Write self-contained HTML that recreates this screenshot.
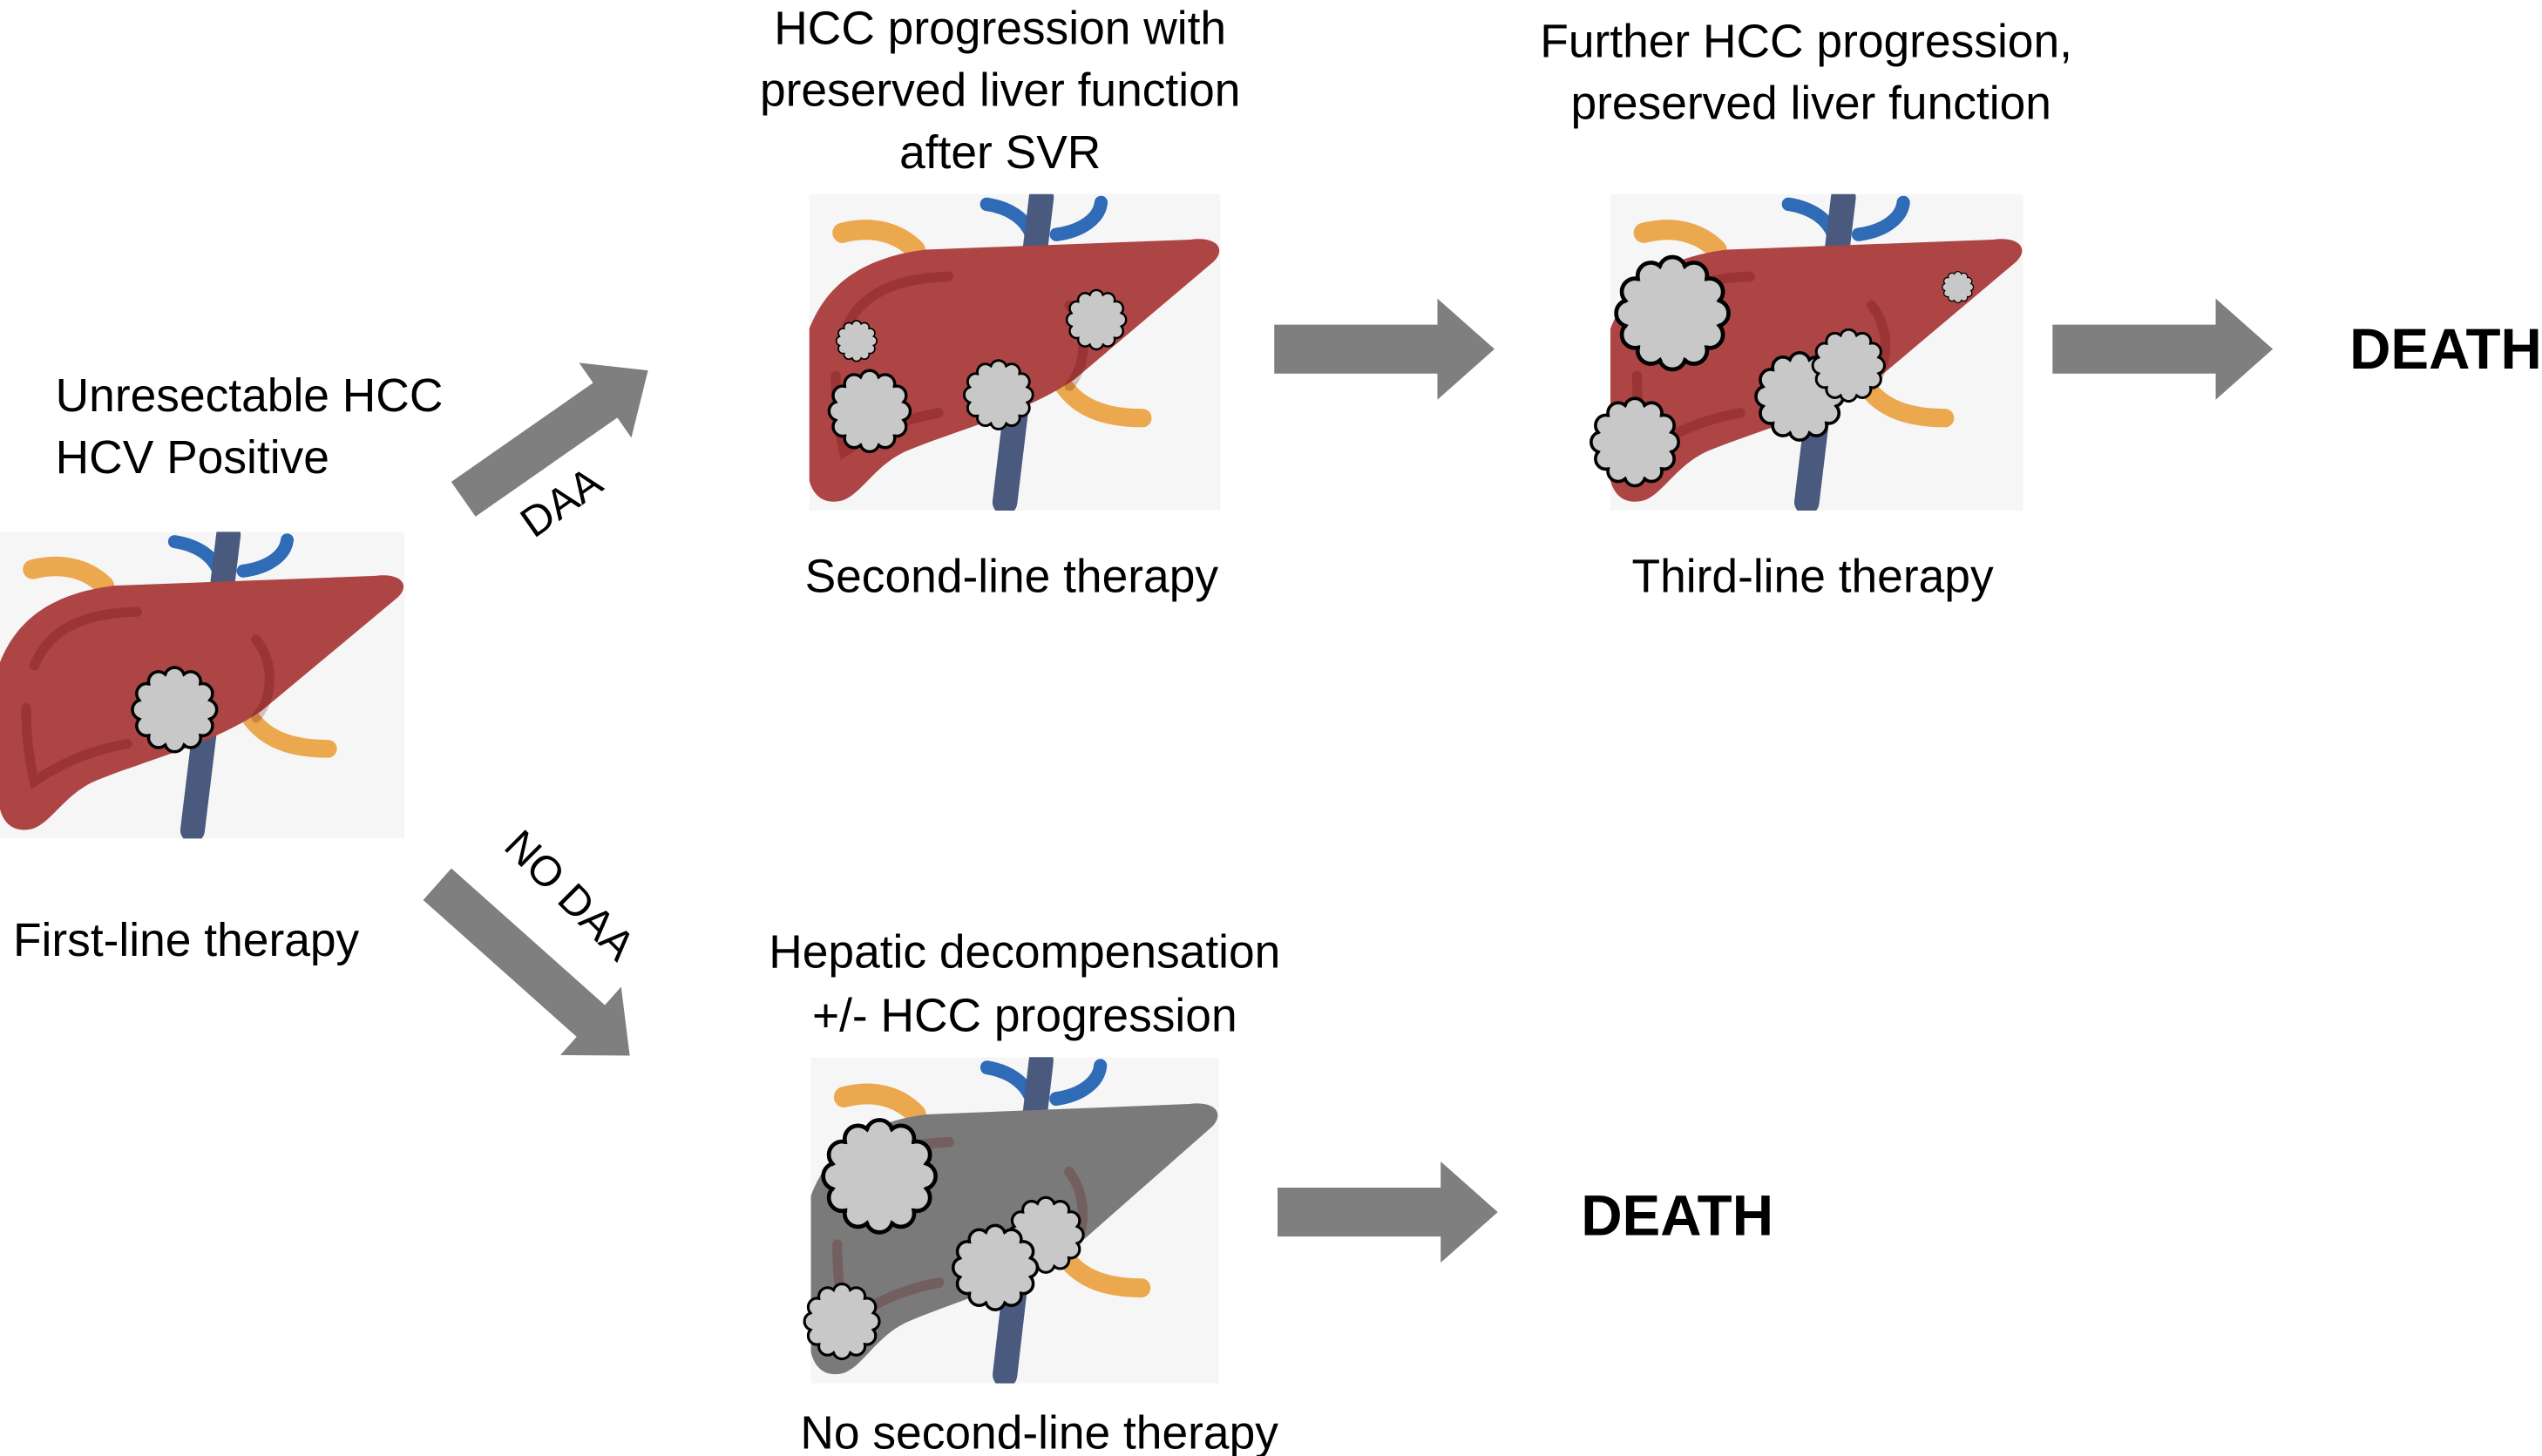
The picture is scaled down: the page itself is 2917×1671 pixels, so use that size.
<!DOCTYPE html>
<html><head><meta charset="utf-8"><style>
html,body{margin:0;padding:0;background:#fff;}
svg{display:block;}
text{font-family:"Liberation Sans",sans-serif;fill:#000;}
</style></head><body>
<svg width="2917" height="1671" viewBox="0 0 1558 892.5" xmlns="http://www.w3.org/2000/svg">
<defs>
<g id="bumps">
  <circle cx="0" cy="-0.84" r="0.26"/><circle cx="0.42" cy="-0.73" r="0.26"/><circle cx="0.73" cy="-0.42" r="0.26"/><circle cx="0.84" cy="0" r="0.26"/>
  <circle cx="0.73" cy="0.42" r="0.26"/><circle cx="0.42" cy="0.73" r="0.26"/><circle cx="0" cy="0.84" r="0.26"/><circle cx="-0.42" cy="0.73" r="0.26"/>
  <circle cx="-0.73" cy="0.42" r="0.26"/><circle cx="-0.84" cy="0" r="0.26"/><circle cx="-0.73" cy="-0.42" r="0.26"/><circle cx="-0.42" cy="-0.73" r="0.26"/>
</g>
<symbol id="tumor" viewBox="-1.15 -1.15 2.3 2.3">
 <g fill="#c8c8c8" stroke="#000" stroke-width="0.08"><use href="#bumps"/></g>
 <circle cx="0" cy="0" r="0.86" fill="#c8c8c8"/>
 <g fill="#c8c8c8" transform="scale(0.93)"><use href="#bumps"/></g>
</symbol>
<symbol id="liver" viewBox="0 0 248 188" preserveAspectRatio="none">
 <rect x="0" y="0" width="248" height="188" fill="#f6f6f6"/>
 <path d="M20,23 C40,18 55,24 64,33" stroke="#eca84f" stroke-width="12" fill="none" stroke-linecap="round"/>
 <path d="M107,6 C120,8 130,14 134,24 M149,24 C165,22 175,14 176,5" stroke="#2f6bb6" stroke-width="8" fill="none" stroke-linecap="round"/>
 <path d="M140,2 L118,183" stroke="#4a5a7e" stroke-width="15" fill="none" stroke-linecap="round"/>
 <path d="M150,108 C160,128 180,133 201,133" stroke="#eca84f" stroke-width="11" fill="none" stroke-linecap="round"/>
 <path d="M0,80 C10,55 30,38 70,33 L230,27 C245,25 252,32 244,40 L160,110 C130,130 90,140 60,152 C40,160 32,178 20,182 C8,185 2,178 0,170 Z" fill="currentColor"/>
 <path d="M21,82 C30,60 50,50 84,49 M16,108 C16,125 18,140 21,153 C40,140 60,133 78,130 M157,66 C168,80 168,100 157,114" stroke="rgba(90,0,0,0.22)" stroke-width="6" fill="none" stroke-linecap="round"/>
</symbol>
<symbol id="arrow" viewBox="0 -31 135 62" overflow="visible">
 <polygon points="0,-15 100,-15 100,-31 135,0 100,31 100,15 0,15" fill="#7f7f7f"/>
</symbol>
</defs>

<use href="#liver" x="0" y="326" width="248" height="188" color="#ad4545"/>
<use href="#tumor" x="80" y="404" width="54" height="62"/>

<use href="#liver" x="496" y="119" width="252" height="194" color="#ad4545"/>
<use href="#tumor" x="512" y="196" width="26" height="26"/>
<use href="#tumor" x="507" y="226" width="52" height="52"/>
<use href="#tumor" x="589" y="220" width="46" height="44"/>
<use href="#tumor" x="653" y="176" width="38" height="40"/>

<use href="#liver" x="987" y="119" width="253" height="194" color="#ad4545"/>
<use href="#tumor" x="989" y="155" width="72" height="74"/>
<use href="#tumor" x="1190" y="158" width="20" height="36"/>
<use href="#tumor" x="1075" y="215" width="56" height="56"/>
<use href="#tumor" x="1110" y="201" width="46" height="46"/>
<use href="#tumor" x="973" y="243" width="58" height="56"/>

<use href="#liver" x="497" y="648" width="250" height="200" color="#7a7a7a"/>
<use href="#tumor" x="503" y="684" width="72" height="74"/>
<use href="#tumor" x="617" y="733" width="48" height="48"/>
<use href="#tumor" x="583" y="750" width="54" height="54"/>
<use href="#tumor" x="492" y="784" width="48" height="52"/>

<use href="#arrow" x="781" y="183" width="135" height="62"/>
<use href="#arrow" x="1258" y="183" width="135" height="62"/>
<use href="#arrow" x="783" y="712" width="135" height="62"/>
<g transform="translate(284,306) rotate(-34.9)"><polygon points="0,-13 106,-13 106,-28 138,0 106,28 106,13 0,13" fill="#7f7f7f"/></g>
<g transform="translate(268,542) rotate(41.7)"><polygon points="0,-13 126,-13 126,-28 158,0 126,28 126,13 0,13" fill="#7f7f7f"/></g>

<g font-size="28.5">
<text x="34" y="252">Unresectable HCC</text>
<text x="34" y="290">HCV Positive</text>
<text x="8" y="586">First-line therapy</text>
<text x="613" y="27" text-anchor="middle">HCC progression with</text>
<text x="613" y="65" text-anchor="middle">preserved liver function</text>
<text x="613" y="103" text-anchor="middle">after SVR</text>
<text x="620" y="363" text-anchor="middle">Second-line therapy</text>
<text x="1107" y="35" text-anchor="middle">Further HCC progression,</text>
<text x="1110" y="73" text-anchor="middle">preserved liver function</text>
<text x="1111" y="363" text-anchor="middle">Third-line therapy</text>
<text x="628" y="593" text-anchor="middle">Hepatic decompensation</text>
<text x="628" y="632" text-anchor="middle">+/- HCC progression</text>
<text x="637" y="888" text-anchor="middle">No second-line therapy</text>
<text transform="translate(349,315) rotate(-35)" text-anchor="middle" font-size="26">DAA</text>
<text transform="translate(343,555) rotate(45)" text-anchor="middle" font-size="26">NO DAA</text>
</g>
<text x="1440" y="226" font-size="35" font-weight="bold">DEATH</text>
<text x="969" y="757" font-size="35" font-weight="bold">DEATH</text>
</svg>
</body></html>
